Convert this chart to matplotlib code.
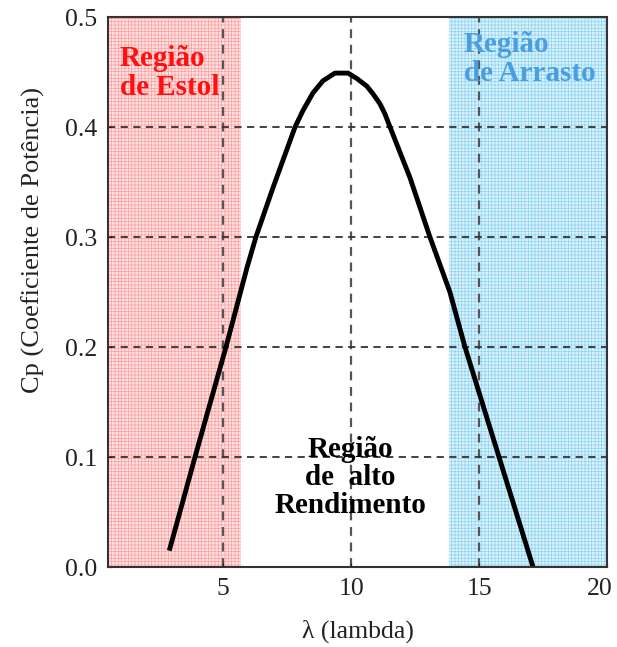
import matplotlib
matplotlib.use("Agg")
import matplotlib.pyplot as plt
import matplotlib.transforms as mtransforms

plt.rcParams['font.family'] = ['Liberation Serif', 'DejaVu Serif']
plt.rcParams['hatch.linewidth'] = 0.5

# curva Cp x lambda
lam = [2.92, 3.90, 5.11, 5.93, 6.28, 6.95, 7.81, 8.12, 8.51, 8.90, 9.37, 9.88,
       10.23, 10.62, 10.86, 11.13, 11.32, 11.52, 12.30, 13.08, 13.86, 14.45, 15.78, 17.11]
cp = [0.017, 0.100, 0.200, 0.272, 0.300, 0.345, 0.400, 0.415, 0.431, 0.442, 0.449, 0.449,
      0.444, 0.437, 0.430, 0.421, 0.412, 0.400, 0.354, 0.300, 0.250, 0.200, 0.100, 0.000]

# limites das regioes
estol = (0.5, 5.7)
arrasto = (13.83, 20)

xticks = [5, 10, 15, 20]
yticks = [0.0, 0.1, 0.2, 0.3, 0.4, 0.5]
ytick_labels = ['0.0', '0.1', '0.2', '0.3', '0.4', '0.5']

fig = plt.figure(figsize=(6.17, 6.47), dpi=100)
ax = fig.add_axes([108/617, 1-567/647, 499/617, 550/647])

ax.axvspan(estol[0], estol[1], facecolor='#ffe2e2', edgecolor='#ff9c9c', hatch='+++++', lw=0, zorder=0)
ax.axvspan(arrasto[0], arrasto[1], facecolor='#d9f1fb', edgecolor='#8cd4f2', hatch='+++++', lw=0, zorder=0)

# grade tracejada
for v in xticks[:-1]:
    ax.axvline(v, color='#555555', lw=1.6, ls=(0, (4, 3)), zorder=1)
for v in yticks[1:-1]:
    ax.axhline(v, color='#333333', lw=1.3, ls=(0, (4, 3)), zorder=1)

ax.plot(lam, cp, color='black', lw=3.5, zorder=3, solid_joinstyle='round')

ax.text(0.97, 0.4745, 'Região\nde Estol', color='#ff1010', fontsize=21, fontweight='bold',
        ha='left', va='top', linespacing=1.1, zorder=4)
ax.text(14.4, 0.487, 'Região\nde Arrasto', color='#4a9ee0', fontsize=21, fontweight='bold',
        ha='left', va='top', linespacing=1.1, zorder=4)
ax.text(9.96, 0.119, 'Região\nde  alto\nRendimento', color='black', fontsize=21, fontweight='bold',
        ha='center', va='top', multialignment='center', linespacing=1.05, zorder=4)

ax.set_xlim(0.5, 20)
ax.set_ylim(0, 0.5)
ax.set_xticks(xticks)
ax.set_yticks(yticks)
ax.set_yticklabels(ytick_labels)
ax.tick_params(direction='in', length=3, labelsize=18.5, colors='#222222', pad=8)
for s in ax.spines.values():
    s.set_linewidth(1.5)
    s.set_color('#333333')
    s.set_zorder(5)

# o "20" fica um pouco para dentro
lbl20 = ax.get_xticklabels()[-1]
lbl20.set_transform(lbl20.get_transform() + mtransforms.ScaledTranslation(-7/100, 0, fig.dpi_scale_trans))

ax.set_xlabel('λ (lambda)', fontsize=18.5, color='#222222', labelpad=14)
fig.text(33/617, 1-240/647, 'Cp (Coeficiente de Potência)', rotation=90, fontsize=19,
         color='#222222', ha='center', va='center')

fig.savefig('out.png', dpi=100)
